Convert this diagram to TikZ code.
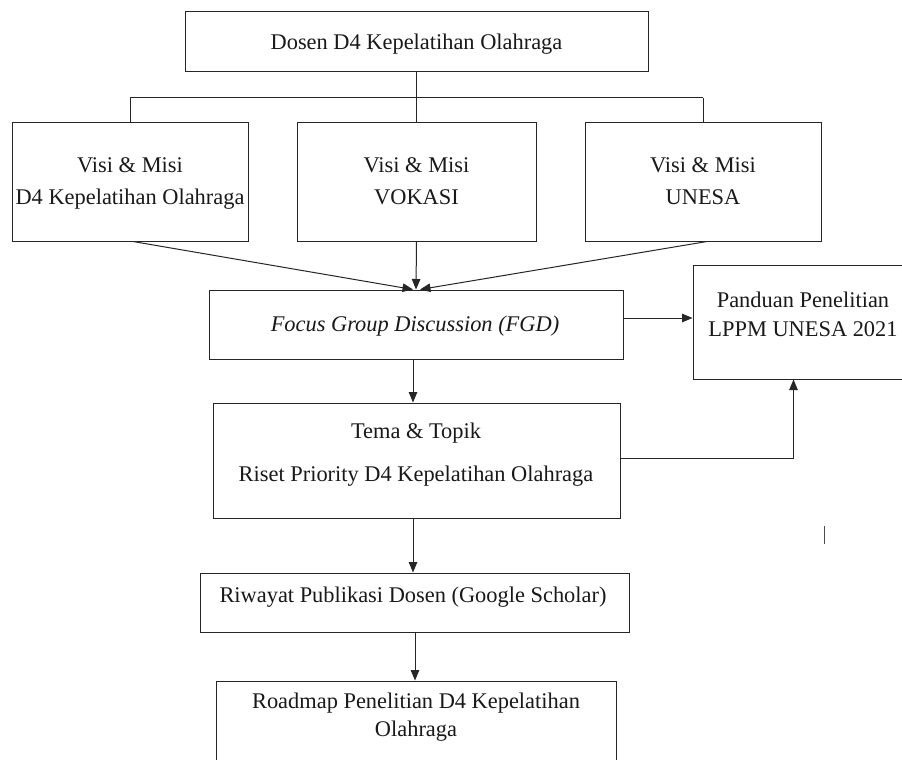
\documentclass[tikz,border=0pt]{standalone}
\usepackage{fontspec}
\setmainfont{Liberation Serif}
\usetikzlibrary{arrows.meta,calc}
\begin{document}
\begin{tikzpicture}[x=1pt,y=-1pt,
  box/.style={draw=black!85, line width=1pt, inner sep=0pt, fill=none},
  txt/.style={anchor=base, inner sep=0pt, text=black!90, font=\fontsize{22.4}{26}\selectfont},
  ln/.style={draw=black!85, line width=1pt},
  arr/.style={ln, -{Triangle[length=10.5pt,width=8.5pt]}}]
\clip (0,0) rectangle (902,760);
\fill[white] (0,0) rectangle (902,760);
% boxes
\node[box, minimum width=463pt, minimum height=60pt]  (top)  at (416.5,42)   {};
\node[box, minimum width=236pt, minimum height=119pt] (v1)   at (130,181.5)  {};
\node[box, minimum width=239pt, minimum height=119pt] (v2)   at (416.5,181.5){};
\node[box, minimum width=236pt, minimum height=119pt] (v3)   at (703,181.5)  {};
\node[box, minimum width=414pt, minimum height=69pt]  (fgd)  at (416,324.5)  {};
\node[box, minimum width=220pt, minimum height=114pt] (pand) at (803,322)    {};
\node[box, minimum width=407pt, minimum height=115pt] (tema) at (416.5,460.5){};
\node[box, minimum width=429pt, minimum height=59pt]  (riw)  at (414.5,602.5){};
\node[box, minimum width=400pt, minimum height=109pt] (road) at (416,735.5)  {};
% texts
\node[txt] (t0)  at (416.5,50)  {Dosen D4 Kepelatihan Olahraga};
\node[txt] (t1a) at (130,172.5) {Visi \& Misi};
\node[txt] (t1b) at (130,204)   {D4 Kepelatihan Olahraga};
\node[txt] (t2a) at (416.5,172.5) {Visi \& Misi};
\node[txt] (t2b) at (416.5,204) {VOKASI};
\node[txt] (t3a) at (703,172.5) {Visi \& Misi};
\node[txt] (t3b) at (703,204)   {UNESA};
\node[txt] (tf)  at (415,331)   {\itshape Focus Group Discussion (FGD)};
\node[txt] (tp1) at (803,307)   {Panduan Penelitian};
\node[txt] (tp2) at (803,336)   {LPPM UNESA 2021};
\node[txt] (tt1) at (416,438)   {Tema \& Topik};
\node[txt] (tt2) at (416,481)   {Riset Priority D4 Kepelatihan Olahraga};
\node[txt] (tr)  at (413,602)   {Riwayat Publikasi Dosen (Google Scholar)};
\node[txt] (tro1) at (416,708)  {Roadmap Penelitian D4 Kepelatihan};
\node[txt] (tro2) at (416,736)  {Olahraga};
% tree connector
\coordinate (bus) at (416.5,97.5);
\draw[ln] (top.south) -- (bus);
\draw[ln] (v1.north |- bus) -- (v3.north |- bus);
\draw[ln] (v1.north |- bus) -- (v1.north);
\draw[ln] (v2.north |- bus) -- (v2.north);
\draw[ln] (v3.north |- bus) -- (v3.north);
% arrows into FGD
\draw[arr] ([xshift=3pt]v1.south) -- ([xshift=-3pt]fgd.north);
\draw[arr] (v2.south) -- (fgd.north);
\draw[arr] ([xshift=4pt]v3.south) -- ([xshift=4pt]fgd.north);
% FGD -> Panduan
\coordinate (f1) at ([yshift=6.5pt]fgd.east);
\draw[arr] (f1) -- (f1 -| pand.west);
% FGD -> Tema
\draw[arr] ([xshift=-3pt]fgd.south) -- ([xshift=-3.5pt]tema.north);
% Tema -> Panduan
\coordinate (p1) at ([xshift=101pt]pand.south west);
\draw[arr] ([yshift=2.5pt]tema.east) -| (p1);
% Tema -> Riwayat -> Roadmap
\draw[arr] ([xshift=-3.5pt]tema.south) -- ([xshift=-1.5pt]riw.north);
\draw[arr] ([xshift=0.5pt]riw.south) -- ([xshift=-1pt]road.north);
% stray mark
\draw[draw=black!70, line width=0.8pt] (824,526) -- (824,544);
\end{tikzpicture}
\end{document}
